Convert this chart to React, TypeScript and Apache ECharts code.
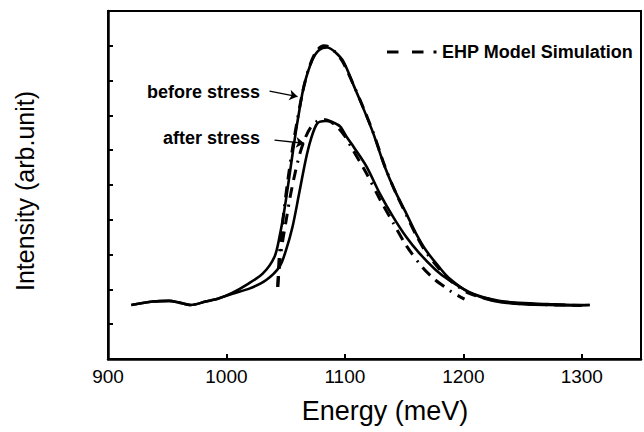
import React, { useEffect, useRef } from "react";
import * as echarts from "echarts";

// Energy (meV) / intensity (arb. unit)
const beforeE = [919.7, 937.8, 951.7, 960, 969.8, 982.3, 993.3, 1004.4, 1016.9, 1030.8, 1040.6, 1044.8, 1048.9, 1053.1, 1057.3, 1061.4, 1065.6, 1072.5, 1078.3, 1085, 1091.7, 1098.9, 1107.3, 1115.6, 1123.9, 1133.6, 1141.9, 1151.7, 1160, 1168.3, 1179.4, 1187.8, 1204.4, 1223.9, 1243.3, 1271, 1293.3, 1306.7];
const beforeI = [1.55, 1.65, 1.67, 1.62, 1.55, 1.65, 1.74, 1.89, 2.13, 2.46, 2.94, 3.51, 4.28, 5.24, 6.24, 7.11, 7.87, 8.59, 8.88, 8.95, 8.82, 8.54, 7.87, 7.2, 6.49, 5.53, 4.86, 4.19, 3.61, 3.13, 2.65, 2.33, 1.93, 1.72, 1.62, 1.58, 1.55, 1.55];

const afterE = [919.7, 937.8, 951.7, 960, 969.8, 982.3, 993.3, 1004.4, 1019.8, 1033.6, 1044.8, 1050.3, 1055.8, 1061.4, 1066.9, 1071.1, 1076.7, 1083.6, 1089.2, 1096.1, 1101.7, 1107.3, 1118.3, 1129.4, 1140.6, 1151.7, 1162.8, 1176.7, 1187.8, 1204.4, 1223.9, 1243.3, 1271, 1293.3, 1306.7];
const afterI = [1.55, 1.65, 1.67, 1.62, 1.55, 1.65, 1.74, 1.87, 2.03, 2.27, 2.65, 3.13, 3.8, 4.76, 5.72, 6.29, 6.77, 6.84, 6.81, 6.68, 6.37, 6.1, 5.53, 4.76, 4.09, 3.51, 3.04, 2.56, 2.27, 1.93, 1.68, 1.59, 1.55, 1.54, 1.55];

const modelBeforeE = [1043.3, 1044.5, 1046.5, 1049, 1052.5, 1056, 1060, 1064.5, 1070, 1076, 1082, 1086, 1091, 1098, 1107, 1115.6, 1124, 1133.6, 1142, 1151.7, 1160, 1168.3, 1179.4, 1188, 1204, 1224, 1243, 1271, 1300];
const modelBeforeI = [2.07, 2.9, 3.6, 4.4, 5.3, 6.1, 6.9, 7.7, 8.4, 8.85, 9.0, 8.98, 8.85, 8.55, 7.9, 7.22, 6.5, 5.55, 4.85, 4.15, 3.57, 3.08, 2.6, 2.28, 1.9, 1.7, 1.6, 1.56, 1.54];

const modelAfterE = [1043.3, 1045, 1047.5, 1050.5, 1054, 1058, 1062, 1066.5, 1071, 1076, 1082, 1088, 1094, 1100, 1106, 1118.3, 1129.4, 1140.6, 1152, 1165.6, 1176, 1184, 1190, 1201];
const modelAfterI = [2.07, 2.75, 3.4, 4.0, 4.7, 5.35, 5.9, 6.35, 6.65, 6.82, 6.88, 6.82, 6.65, 6.4, 6.05, 5.33, 4.6, 3.92, 3.25, 2.63, 2.28, 2.08, 1.93, 1.72];

// annotation arrows (data coordinates: [start, end])
const beforeArrow = [[1036.4, 7.7], [1060, 7.54]];
const afterArrow = [[1040.6, 6.29], [1065.6, 6.2]];

const xMin = 900;
const xMax = 1350;
const xStep = 100;
const yMin = 0;
const yMax = 10;
const yStep = 1;

const FONT = '"Liberation Sans", Arial, Helvetica, sans-serif';

const zip = (a: number[], b: number[]) => a.map((v, i) => [v, b[i]]);

export default function App() {
  const ref = useRef<HTMLDivElement>(null);
  useEffect(() => {
    if (!ref.current) return;
    const chart = echarts.init(ref.current, null, { renderer: "svg" });
    const dash = [11, 7, 11, 7, 2, 7];
    const legendSeg = (x1: number, x2: number) => ({
      type: "line",
      shape: { x1, y1: 52, x2, y2: 52 },
      style: { stroke: "#000", lineWidth: 3 },
    });
    chart.setOption({
      animation: false,
      backgroundColor: "#fff",
      grid: {
        left: 108,
        top: 11,
        width: 540,
        height: 348,
        show: true,
        borderColor: "#000",
        borderWidth: 2,
        backgroundColor: "transparent",
      },
      xAxis: {
        type: "value",
        min: xMin,
        max: xMax,
        interval: xStep,
        splitLine: { show: false },
        axisLine: { lineStyle: { color: "#000", width: 2.5 } },
        axisTick: { inside: true, length: 5, lineStyle: { color: "#000", width: 2 } },
        axisLabel: {
          color: "#000",
          fontFamily: FONT,
          fontSize: 19,
          margin: 8,
          formatter: (v: number) => (v % 100 === 0 ? String(v) : ""),
        },
      },
      yAxis: {
        type: "value",
        min: yMin,
        max: yMax,
        interval: yStep,
        splitLine: { show: false },
        axisLine: { lineStyle: { color: "#000", width: 2.5 } },
        axisTick: { inside: true, length: 5, lineStyle: { color: "#000", width: 2 } },
        axisLabel: { show: false },
      },
      series: [
        {
          name: "before stress",
          type: "line",
          data: zip(beforeE, beforeI),
          smooth: 0.3,
          symbol: "none",
          lineStyle: { color: "#000", width: 2.6 },
          markLine: {
            silent: true,
            symbol: ["none", "arrow"],
            symbolSize: 8,
            label: { show: false },
            lineStyle: { color: "#000", width: 1.3, type: "solid" },
            data: [
              [{ coord: beforeArrow[0] }, { coord: beforeArrow[1] }],
              [{ coord: afterArrow[0] }, { coord: afterArrow[1] }],
            ],
          },
        },
        {
          name: "after stress",
          type: "line",
          data: zip(afterE, afterI),
          smooth: 0.3,
          symbol: "none",
          lineStyle: { color: "#000", width: 2.6 },
        },
        {
          name: "EHP Model Simulation",
          type: "line",
          data: zip(modelBeforeE, modelBeforeI),
          smooth: 0.3,
          symbol: "none",
          lineStyle: { color: "#000", width: 3, type: dash },
        },
        {
          name: "EHP Model Simulation",
          type: "line",
          data: zip(modelAfterE, modelAfterI),
          smooth: 0.3,
          symbol: "none",
          lineStyle: { color: "#000", width: 3, type: dash },
        },
      ],
      graphic: [
        legendSeg(387, 398.5),
        legendSeg(412, 423.5),
        legendSeg(433.5, 436.5),
        {
          type: "text",
          x: 442,
          y: 52,
          style: {
            text: "EHP Model Simulation",
            font: `bold 18px ${FONT}`,
            fill: "#000",
            textAlign: "left",
            textVerticalAlign: "middle",
          },
        },
        {
          type: "text",
          x: 260,
          y: 92,
          style: {
            text: "before stress",
            font: `bold 18px ${FONT}`,
            fill: "#000",
            textAlign: "right",
            textVerticalAlign: "middle",
          },
        },
        {
          type: "text",
          x: 260,
          y: 138,
          style: {
            text: "after stress",
            font: `bold 18px ${FONT}`,
            fill: "#000",
            textAlign: "right",
            textVerticalAlign: "middle",
          },
        },
        {
          type: "text",
          x: 385,
          y: 411,
          style: {
            text: "Energy (meV)",
            font: `27px ${FONT}`,
            fill: "#000",
            textAlign: "center",
            textVerticalAlign: "middle",
          },
        },
        {
          type: "text",
          x: 25,
          y: 191,
          rotation: Math.PI / 2,
          style: {
            text: "Intensity (arb.unit)",
            font: `25px ${FONT}`,
            fill: "#000",
            textAlign: "center",
            textVerticalAlign: "middle",
          },
        },
      ],
    });
    return () => chart.dispose();
  }, []);
  return (
    <div
      ref={ref}
      style={{ position: "fixed", left: 0, top: 0, width: 644, height: 432, overflow: "hidden" }}
    />
  );
}
